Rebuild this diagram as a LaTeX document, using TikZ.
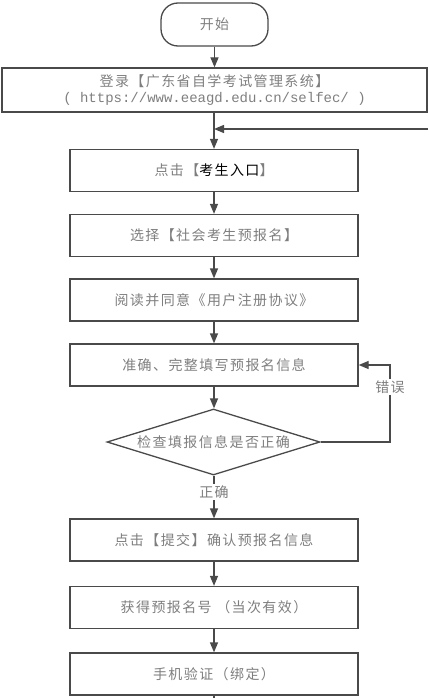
\documentclass[tikz,border=0pt]{standalone}
\usepackage{fontspec}
\setmainfont{Noto Sans CJK SC}[LetterSpace=10]
\newfontfamily\urlfont{Liberation Mono}
\usetikzlibrary{arrows.meta,shapes.geometric}
\definecolor{lineC}{HTML}{4A4A4A}
\definecolor{txtC}{HTML}{7E7E7E}
\tikzset{
  box/.style={draw=lineC, line width=1.3pt, minimum width=288pt, minimum height=42pt, inner sep=0pt, text=txtC, font=\fontsize{14}{17}\selectfont},
  arr/.style={draw=lineC, line width=1.3pt, -{Triangle[length=10pt,width=8pt]}},
  plain/.style={draw=lineC, line width=1.3pt},
  lbl/.style={fill=white, text=txtC, inner sep=1.5pt, font=\fontsize{14}{17}\selectfont}
}
\begin{document}
\begin{tikzpicture}[x=1pt,y=-1pt]
\useasboundingbox (0,0) rectangle (428,698);
\node[box, minimum width=107pt, minimum height=43pt, rounded corners=17pt] (start) at (214.5,24.5) {开始};
\node[box, minimum width=425pt, minimum height=44pt, align=center] (login) at (214.5,90) {登录【广东省自学考试管理系统】\\[-1pt]{\urlfont\fontsize{14}{17}\selectfont ( https://www.eeagd.edu.cn/selfec/ )}};
\node[box] (b3) at (214,170.5) {点击【{\color{black}考生入口}】};
\node[box] (b4) at (214,235.5) {选择【社会考生预报名】};
\node[box] (b5) at (214,300) {阅读并同意《用户注册协议》};
\node[box] (b6) at (214,365) {准确、完整填写预报名信息};
\node[draw=lineC, line width=1.3pt, shape=diamond, aspect=3.2, inner sep=0pt, minimum width=213pt, minimum height=66pt, text=txtC, font=\fontsize{14}{17}\selectfont] (dia) at (213.5,442) {检查填报信息是否正确};
\node[box] (b7) at (214,540) {点击【提交】确认预报名信息};
\node[box] (b8) at (214,607.5) {获得预报名号 （当次有效）};
\node[box] (b9) at (214,674) {手机验证（绑定）};
\coordinate (fb) at (428,129);
\coordinate (ec) at (390,365);
\coordinate (endc) at (214,698);
\draw[arr] (start) -- (login.north -| start.south);
\draw[arr] (login.south -| b3.north) -- (b3.north);
\draw[arr] (fb) -- (fb -| b3.north);
\draw[arr] (b3) -- (b4);
\draw[arr] (b4) -- (b5);
\draw[arr] (b5) -- (b6);
\draw[arr] (b6) -- (dia.north -| b6.south);
\draw[arr] (dia.east) -| (ec) -- (b6.east);
\draw[arr] (dia.south -| b7.north) -- (b7.north);
\draw[arr] (b7) -- (b8);
\draw[arr] (b8) -- (b9);
\draw[plain] (b9.south) -- (endc);
\node[lbl] (err) at (390,387) {错误};
\node[lbl] (ok) at (214,492) {正确};
\end{tikzpicture}
\end{document}
